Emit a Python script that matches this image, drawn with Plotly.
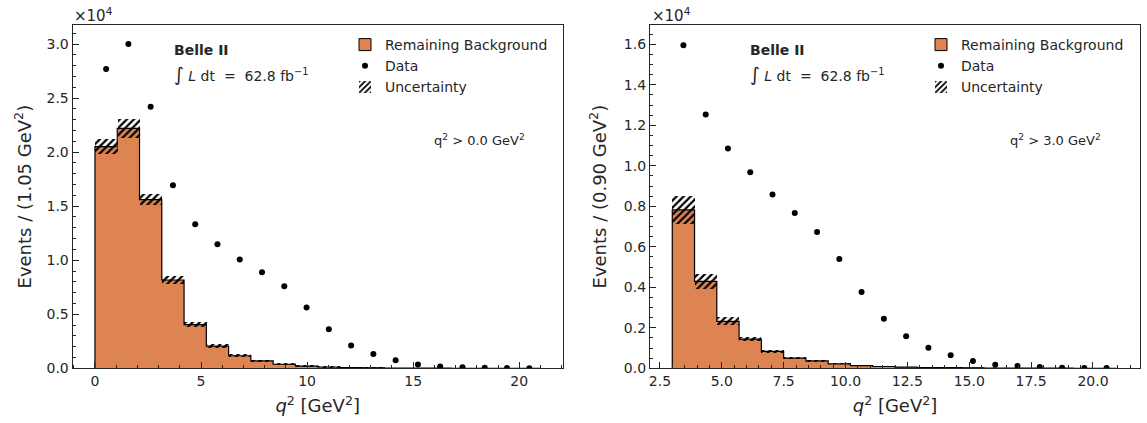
import numpy as np
import plotly.graph_objects as go

W, H = 1147, 423

# ---------------- data ----------------
left_bin_start = 0.0
left_bin_width = 1.05
left_data = [27700, 30000, 24200, 16940, 13330, 11480, 10060, 8890, 7590, 5620,
             3610, 2100, 1330, 740, 340, 160, 90, 50, 30, 10]
left_bkg = [20500, 22200, 15600, 8170, 4040, 2060, 1160, 680, 375, 210,
            120, 70, 40, 20, 12, 8, 5, 3, 2, 1]
left_unc = [710, 900, 520, 370, 250, 160, 140, 120, 110, 100,
            80, 60, 50, 40, 30, 20, 15, 10, 10, 5]

right_bin_start = 3.0
right_bin_width = 0.90
right_data = [15950, 12530, 10850, 9680, 8580, 7670, 6730, 5400, 3770, 2450,
              1580, 1020, 640, 360, 180, 110, 60, 30, 20, 10]
right_bkg = [7820, 4290, 2320, 1440, 840, 500, 370, 220, 130, 90,
             60, 40, 30, 20, 15, 10, 8, 5, 3, 2]
right_unc = [690, 350, 200, 90, 60, 45, 35, 30, 25, 20,
             15, 12, 10, 8, 6, 5, 4, 3, 2, 2]

left_yticks = [0, 5000, 10000, 15000, 20000, 25000, 30000]
left_ylabels = ["0.0", "0.5", "1.0", "1.5", "2.0", "2.5", "3.0"]
right_yticks = [0, 2000, 4000, 6000, 8000, 10000, 12000, 14000, 16000]
right_ylabels = ["0.0", "0.2", "0.4", "0.6", "0.8", "1.0", "1.2", "1.4", "1.6"]

ORANGE = "#dd8452"
TXT = "#262626"
FONT = "DejaVu Sans"

fig = go.Figure()


def add_panel(start, bw, data, bkg, unc, xa, ya, legend):
    n = len(data)
    edges = start + bw * np.arange(n + 1)
    centers = edges[:-1] + bw / 2
    bkg = np.array(bkg, float)
    unc = np.array(unc, float)
    # background fill
    fig.add_trace(go.Bar(x=centers, y=bkg, width=bw, marker=dict(color=ORANGE, line=dict(width=0)),
                         showlegend=False, xaxis=xa, yaxis=ya, hoverinfo="skip"))
    # step outline
    xs = np.concatenate([[edges[0]], edges[:-1], [edges[-1]]])
    ys = np.concatenate([[0], bkg, [0]])
    fig.add_trace(go.Scatter(x=xs, y=ys, mode="lines", line=dict(color="black", width=1.2, shape="hv"),
                             showlegend=False, xaxis=xa, yaxis=ya, hoverinfo="skip"))
    # legend proxy for background
    fig.add_trace(go.Bar(x=[None], y=[None], name="Remaining Background",
                         marker=dict(color=ORANGE, line=dict(color="black", width=1)),
                         xaxis=xa, yaxis=ya, legend=legend, legendrank=1))
    # data
    fig.add_trace(go.Scatter(x=centers, y=data, mode="markers", name="Data",
                             marker=dict(color="black", size=6),
                             error_y=dict(type="data", array=np.sqrt(np.array(data, float)),
                                          color="black", thickness=1, width=0),
                             xaxis=xa, yaxis=ya, legend=legend, legendrank=2))
    # uncertainty band
    fig.add_trace(go.Bar(x=centers, y=2 * unc, base=bkg - unc, width=bw, name="Uncertainty",
                         marker=dict(color="rgba(0,0,0,0)", line=dict(width=0),
                                     pattern=dict(shape="/", fgcolor="black", bgcolor="rgba(0,0,0,0)",
                                                  size=5, solidity=0.45)),
                         xaxis=xa, yaxis=ya, legend=legend, legendrank=3))


add_panel(left_bin_start, left_bin_width, left_data, left_bkg, left_unc, "x", "y", "legend")
add_panel(right_bin_start, right_bin_width, right_data, right_bkg, right_unc, "x2", "y2", "legend2")

x0a, x1a = 72.7 / W, 562.7 / W
x0b, x1b = 650 / W, 1140 / W
ytop, ybot = 1 - 25 / H, 1 - 368.3 / H

axcommon = dict(showline=True, linecolor=TXT, linewidth=1.3, mirror=True, ticks="inside",
                ticklen=6, tickwidth=1.2, tickcolor=TXT, showgrid=False, zeroline=False,
                automargin=False,
                tickfont=dict(family=FONT, size=14, color=TXT),
                title_font=dict(family=FONT, size=18, color=TXT))

fig.update_layout(
    template="none",
    width=W, height=H, margin=dict(l=0, r=0, t=0, b=0, autoexpand=False),
    paper_bgcolor="white", plot_bgcolor="white", barmode="overlay", bargap=0,
    font=dict(family=FONT, size=14, color=TXT),
    xaxis=dict(domain=[x0a, x1a], anchor="y", range=[-1.05, 22.05], tick0=0, dtick=5,
               title=dict(text="<i>q</i><sup>2</sup> [GeV<sup>2</sup>]", standoff=11),
               minor=dict(ticks="inside", ticklen=3, tickcolor=TXT, dtick=1, tick0=0), **axcommon),
    yaxis=dict(domain=[ybot, ytop], anchor="x", range=[0, 31760], tickmode="array",
               tickvals=left_yticks, ticktext=left_ylabels,
               title=dict(text="Events / (1.05 GeV<sup>2</sup>)", standoff=10),
               minor=dict(ticks="inside", ticklen=3, tickcolor=TXT, dtick=1000, tick0=0), **axcommon),
    xaxis2=dict(domain=[x0b, x1b], anchor="y2", range=[2.1, 21.9], tick0=2.5, dtick=2.5,
                tickformat=".1f",
                title=dict(text="<i>q</i><sup>2</sup> [GeV<sup>2</sup>]", standoff=11),
                minor=dict(ticks="inside", ticklen=3, tickcolor=TXT, dtick=0.5, tick0=0), **axcommon),
    yaxis2=dict(domain=[ybot, ytop], anchor="x2", range=[0, 16950], tickmode="array",
                tickvals=right_yticks, ticktext=right_ylabels,
                title=dict(text="Events / (0.90 GeV<sup>2</sup>)", standoff=12),
                minor=dict(ticks="inside", ticklen=3, tickcolor=TXT, dtick=500, tick0=0), **axcommon),
    legend=dict(x=345 / W, y=1 - 29 / H, xanchor="left", yanchor="top", bgcolor="rgba(0,0,0,0)",
                font=dict(family=FONT, size=14, color=TXT), traceorder="normal", tracegroupgap=0),
    legend2=dict(x=921 / W, y=1 - 29 / H, xanchor="left", yanchor="top", bgcolor="rgba(0,0,0,0)",
                 font=dict(family=FONT, size=14, color=TXT), traceorder="normal", tracegroupgap=0),
)

ann = []
for (xl, xr, xoff, qtxt) in [(172, 527, 72, "0.0"), (748, 1103, 650, "3.0")]:
    ann.append(dict(x=xoff / W, y=1 - 15 / H, xref="paper", yref="paper", xanchor="left", yanchor="middle",
                    text="×10<sup>4</sup>", showarrow=False, font=dict(family=FONT, size=15, color=TXT)))
    ann.append(dict(x=xl / W, y=1 - 50 / H, xref="paper", yref="paper", xanchor="left", yanchor="middle",
                    text="<b>Belle II</b>", showarrow=False, font=dict(family=FONT, size=14, color=TXT)))
    ann.append(dict(x=xl / W, y=1 - 74 / H, xref="paper", yref="paper", xanchor="left", yanchor="middle",
                    text="<span style='font-size:19px'>∫</span>&nbsp;<i>L</i> dt&nbsp;&nbsp;=&nbsp;&nbsp;62.8 fb<sup>−1</sup>",
                    showarrow=False, font=dict(family=FONT, size=14, color=TXT)))
    ann.append(dict(x=xr / W, y=1 - 140 / H, xref="paper", yref="paper", xanchor="right", yanchor="middle",
                    text="q<sup>2</sup> > " + qtxt + " GeV<sup>2</sup>", showarrow=False,
                    font=dict(family=FONT, size=13, color=TXT)))
fig.update_layout(annotations=ann)

fig.write_html("out.html")
